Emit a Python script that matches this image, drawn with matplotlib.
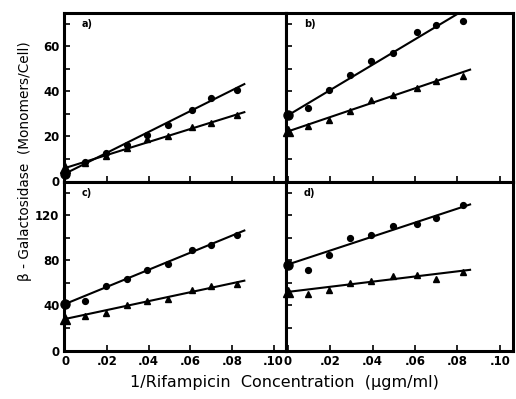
import matplotlib
matplotlib.use("Agg")
import matplotlib.pyplot as plt
import numpy as np

# ---- data ----
x_pts = [0.0095, 0.0195, 0.0295, 0.0395, 0.0495, 0.0610, 0.0700, 0.0825]

a_circ = [8.7, 12.5, 16.2, 20.7, 24.9, 31.6, 37.2, 40.4]
a_tri = [8.0, 11.3, 14.7, 18.8, 20.4, 24.2, 26.1, 29.6]
b_circ = [32.7, 40.5, 47.4, 53.3, 57.2, 66.2, 69.5, 71.3]
b_tri = [24.5, 27.5, 31.5, 36.2, 38.4, 41.4, 44.7, 46.7]
c_circ = [44.3, 57.0, 63.8, 71.8, 77.2, 89.0, 93.4, 102.9]
c_tri = [30.3, 33.3, 40.1, 43.7, 46.0, 53.4, 57.6, 59.4]
d_circ = [71.8, 84.6, 100.0, 102.3, 110.3, 112.7, 117.8, 128.7]
d_tri = [50.5, 54.0, 60.0, 61.4, 65.9, 67.4, 63.8, 69.8]

# fitted lines: intercept (value at x=0) and slope
circ_intercept = [3.5, 29.3, 41.3, 76.3]
circ_slope = [462, 563, 758, 620]
tri_intercept = [6.0, 22.2, 28.0, 52.0]
tri_slope = [288, 319, 395, 228]
line_x = [0.0, 0.086]

panel_labels = ["a)", "b)", "c)", "d)"]
xticks = [0, 0.02, 0.04, 0.06, 0.08, 0.10]
xticklabels = ["0", ".02", ".04", ".06", ".08", ".10"]
top_yticks = [0, 20, 40, 60]
bot_yticks = [0, 40, 80, 120]

circ_series = [a_circ, b_circ, c_circ, d_circ]
tri_series = [a_tri, b_tri, c_tri, d_tri]

# ---- figure ----
W, H = 516, 399
fig = plt.figure(figsize=(W / 100, H / 100), dpi=100)

def frac(x0, y0, x1, y1):
    return [x0 / W, 1 - y1 / H, (x1 - x0) / W, (y1 - y0) / H]

rects = [frac(63.5, 12.5, 286, 181.5), frac(286, 12.5, 512.5, 181.5),
         frac(63.5, 181.5, 286, 350.5), frac(286, 181.5, 512.5, 350.5)]
ylims = [75, 75, 150, 150]

tfont = dict(fontsize=8.5, fontweight="bold")

for i in range(4):
    ax = fig.add_axes(rects[i])
    ax.set_xlim(-0.0008, 0.106)
    ax.set_ylim(0, ylims[i])
    for s in ax.spines.values():
        s.set_linewidth(2.2)
        s.set_color("black")
    ax.set_xticks(xticks)
    if i < 2:
        ax.set_yticks(top_yticks)
        ax.set_yticks([10, 30, 50, 70], minor=True)
    else:
        ax.set_yticks(bot_yticks)
        ax.set_yticks([20, 60, 100, 140], minor=True)
    ax.tick_params(axis="both", which="both", direction="in", length=4, width=1.2,
                   top=False, right=False, pad=3)
    if i >= 2:
        ax.set_xticklabels(xticklabels, **tfont)
    else:
        ax.set_xticklabels([])
    if i % 2 == 0:
        ax.set_yticklabels([str(v) for v in (top_yticks if i < 2 else bot_yticks)], **tfont)
    else:
        ax.set_yticklabels([])

    # lines
    lx = np.array(line_x)
    ax.plot(lx, circ_intercept[i] + circ_slope[i] * lx, color="black", lw=1.5)
    ax.plot(lx, tri_intercept[i] + tri_slope[i] * lx, color="black", lw=1.5)
    # points
    ax.plot(x_pts, circ_series[i], "o", color="black", ms=4.2)
    ax.plot(x_pts, tri_series[i], "^", color="black", ms=4.2)
    # intercept markers
    ax.plot([0], [circ_intercept[i]], "o", color="black", ms=6.5, clip_on=False, zorder=5)
    ax.plot([0], [tri_intercept[i]], "^", color="black", ms=6.5, clip_on=False, zorder=5)

    ax.text(0.08, 0.93, panel_labels[i], transform=ax.transAxes, ha="left", va="center",
            fontsize=7, fontweight="bold")

fig.text(25 / W, 1 - 161 / H, "β - Galactosidase  (Monomers/Cell)", rotation=90,
         ha="center", va="center", fontsize=9.8)
fig.text(284 / W, 1 - 383 / H, "1/Rifampicin  Concentration  (μgm/ml)",
         ha="center", va="center", fontsize=11.5)

fig.savefig("out.png", dpi=100)
